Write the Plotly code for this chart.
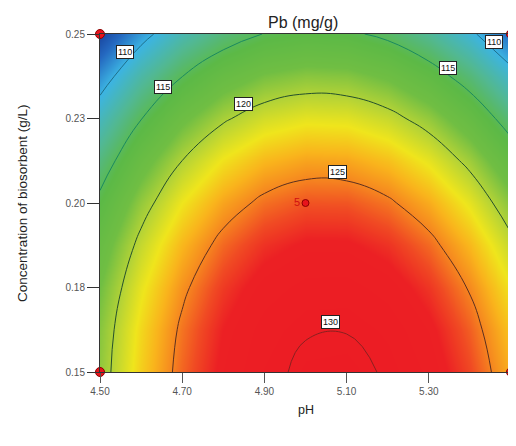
import plotly.graph_objects as go

# ---- data ----
ph_values = [4.5, 4.6, 4.7, 4.8, 4.9, 5.0, 5.1, 5.2, 5.3, 5.4, 5.5]
conc_values = [0.15, 0.1625, 0.175, 0.1875, 0.20, 0.2125, 0.225, 0.2375, 0.25]
pb_grid = [
    [119.02, 122.72, 125.71, 127.97, 129.52, 130.35, 130.45, 129.84, 128.50, 126.45, 123.68],
    [118.74, 122.41, 125.36, 127.59, 129.10, 129.88, 129.95, 129.30, 127.93, 125.84, 123.03],
    [118.07, 121.70, 124.61, 126.81, 128.28, 129.03, 129.06, 128.37, 126.96, 124.83, 121.98],
    [117.01, 120.60, 123.48, 125.63, 127.06, 127.78, 127.77, 127.04, 125.60, 123.43, 120.54],
    [115.55, 119.11, 121.94, 124.06, 125.45, 126.13, 126.09, 125.32, 123.84, 121.63, 118.71],
    [113.70, 117.22, 120.01, 122.09, 123.45, 124.09, 124.01, 123.21, 121.68, 119.44, 116.48],
    [111.45, 114.93, 117.69, 119.73, 121.05, 121.65, 121.53, 120.69, 119.14, 116.86, 113.86],
    [108.80, 112.25, 114.97, 116.97, 118.26, 118.82, 118.67, 117.79, 116.19, 113.88, 110.84],
    [105.77, 109.17, 111.86, 113.82, 115.07, 115.60, 115.40, 114.49, 112.85, 110.50, 107.43],
]
contour_levels = [110, 115, 120, 125, 130]

design_ph = [4.5, 4.5, 5.5, 5.5]
design_conc = [0.15, 0.25, 0.15, 0.25]
center_ph = [5.0]
center_conc = [0.20]
center_label = ["5"]

label_text = ["110", "115", "120", "125", "130", "115", "110"]
label_ph = [4.561, 4.653, 4.848, 5.077, 5.062, 5.347, 5.459]
label_conc = [0.2447, 0.2343, 0.2293, 0.2092, 0.1648, 0.2399, 0.2476]

x_ticks = [4.5, 4.7, 4.9, 5.1, 5.3, 5.5]
x_ticktext = ["4.50", "4.70", "4.90", "5.10", "5.30", "5.50"]
y_ticks = [0.15, 0.175, 0.20, 0.225, 0.25]
y_ticktext = ["0.15", "0.18", "0.20", "0.23", "0.25"]

# ---- styles ----
colorscale = [
    [0.00, "#17409a"],
    [0.08, "#2468c0"],
    [0.18, "#3cb4e2"],
    [0.30, "#52b890"],
    [0.40, "#5cb946"],
    [0.50, "#70be43"],
    [0.58, "#b4d336"],
    [0.655, "#efe51c"],
    [0.72, "#f9b41c"],
    [0.77, "#f68a1f"],
    [0.83, "#f04a23"],
    [0.88, "#ec2024"],
    [1.00, "#ec1c24"],
]
line_colors = {110: "#1f6f8a", 115: "#1a8a60", 120: "#24502c", 125: "#5c3020", 130: "#8a2020"}
tick_font = dict(family="Liberation Sans Narrow, Arial Narrow, sans-serif", size=10, color="#555555")

fig = go.Figure()

fig.add_trace(go.Contour(
    x=ph_values, y=conc_values, z=pb_grid,
    colorscale=colorscale, zmin=105.5, zmax=130.6,
    contours=dict(coloring="heatmap", showlines=False, start=110, end=130, size=5),
    line=dict(width=0), showscale=False, hoverinfo="skip",
))

for lvl in contour_levels:
    fig.add_trace(go.Contour(
        x=ph_values, y=conc_values, z=pb_grid,
        contours=dict(coloring="none", start=lvl, end=lvl, size=1),
        line=dict(color=line_colors[lvl], width=1, smoothing=1.3),
        showscale=False, hoverinfo="skip",
    ))

fig.add_trace(go.Scatter(
    x=design_ph, y=design_conc, mode="markers",
    marker=dict(size=9, color="#e8141c", line=dict(color="#8b0000", width=1)),
    cliponaxis=False, hoverinfo="skip",
))
fig.add_trace(go.Scatter(
    x=center_ph, y=center_conc, mode="markers+text", text=center_label,
    textposition="middle left",
    textfont=dict(family="Liberation Sans Narrow, Arial Narrow, sans-serif", size=11, color="#d01010"),
    marker=dict(size=7, color="#e8141c", line=dict(color="#8b0000", width=1)),
    hoverinfo="skip",
))

annotations = []
for t, xv, yv in zip(label_text, label_ph, label_conc):
    annotations.append(dict(
        x=xv, y=yv, xref="x", yref="y", text=t, showarrow=False,
        font=dict(family="Liberation Sans Narrow, Arial Narrow, sans-serif", size=9, color="#111111"),
        bgcolor="white", bordercolor="#222222", borderwidth=1, borderpad=1,
    ))
annotations.append(dict(
    x=-0.19, y=0.5, xref="paper", yref="paper", text="Concentration of biosorbent (g/L)",
    textangle=-90, showarrow=False, xanchor="center", yanchor="middle",
    font=dict(family="Liberation Sans, Arial, sans-serif", size=13.5, color="#222222"),
))
annotations.append(dict(
    x=0.5, y=-0.112, xref="paper", yref="paper", text="pH",
    showarrow=False, xanchor="center", yanchor="middle",
    font=dict(family="Liberation Sans, Arial, sans-serif", size=12.5, color="#222222"),
))

# page body adds an 8px offset, so the figure is sized to fill the rest of the window
fig.update_layout(
    width=508, height=438,
    margin=dict(l=92, r=5, t=26, b=74),
    paper_bgcolor="white", plot_bgcolor="white",
    showlegend=False,
    title=dict(text="Pb (mg/g)", x=0.581, xanchor="center", y=0.968, yanchor="middle",
               font=dict(family="Liberation Sans, Arial, sans-serif", size=16, color="#222222")),
    annotations=annotations,
    xaxis=dict(range=[4.5, 5.5], tickvals=x_ticks, ticktext=x_ticktext, ticks="outside",
               ticklen=10, tickcolor="#555555", tickfont=tick_font, showline=True,
               linecolor="#333333", linewidth=1, mirror=True, showgrid=False, zeroline=False),
    yaxis=dict(range=[0.15, 0.25], tickvals=y_ticks, ticktext=y_ticktext, ticks="outside",
               ticklen=12, tickcolor="#333333", tickfont=tick_font, showline=True,
               linecolor="#333333", linewidth=1, mirror=True, showgrid=False, zeroline=False),
)

fig.write_html("out.html")
